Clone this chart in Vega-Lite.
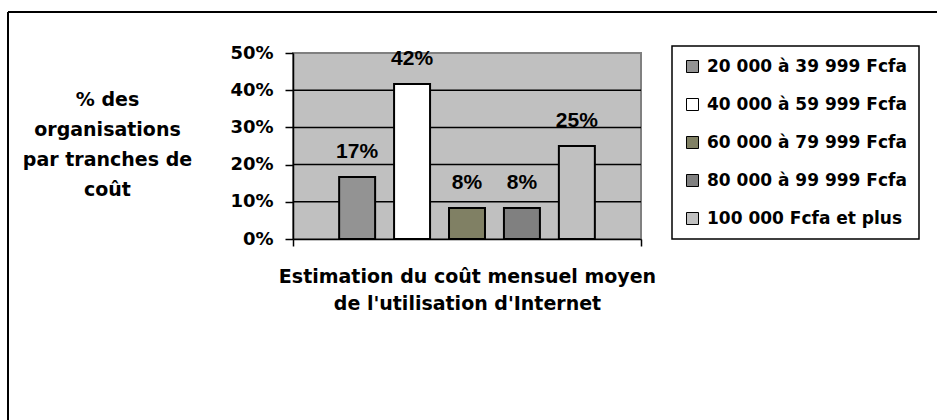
{
  "$schema": "https://vega.github.io/schema/vega-lite/v6.json",
  "width": 929,
  "height": 408,
  "autosize": {"type": "none"},
  "padding": {"left": 8, "top": 12, "right": 0, "bottom": 0},
  "background": "white",
  "view": {"stroke": "black", "strokeWidth": 2, "strokeDash": [929, 1337, 408, 0], "fill": null},
  "config": {
    "font": "DejaVu Sans",
    "legend": {"strokeColor": "black", "strokeWidth": 1.5, "fillColor": "white", "padding": 12}
  },
  "layer": [
    {
      "layer": [
        {
          "data": {"values": [{"zone": "plot"}]},
          "mark": {"type": "rect", "fill": "#c0c0c0", "stroke": "#808080", "strokeWidth": 2},
          "encoding": {
            "x": {
              "datum": 0, "type": "quantitative",
              "scale": {"domain": [0, 1], "range": [285, 633], "nice": false, "zero": false},
              "axis": {
                "orient": "bottom", "offset": -181, "values": [0, 1], "labels": false, "grid": false,
                "ticks": true, "tickSize": 7, "tickColor": "black", "tickWidth": 1.5,
                "domainColor": "black", "domainWidth": 1.5, "zindex": 1,
                "title": ["Estimation du coût mensuel moyen", "de l'utilisation d'Internet"],
                "titleFont": "DejaVu Sans", "titleFontWeight": "bold", "titleFontSize": 19,
                "titleColor": "black", "titleLineHeight": 27, "titleBaseline": "middle", "titleY": 37
              }
            },
            "x2": {"datum": 1},
            "y": {
              "datum": 0, "type": "quantitative",
              "scale": {"domain": [0, 0.5], "range": [227, 41], "nice": false},
              "axis": {
                "orient": "left", "offset": -285, "values": [0, 0.1, 0.2, 0.3, 0.4, 0.5], "format": ".0%",
                "grid": false, "zindex": 1, "labelFlush": false, "labelOverlap": false,
                "domainColor": "black", "domainWidth": 1.5, "tickColor": "black", "tickWidth": 1.5, "tickSize": 8,
                "labelFont": "DejaVu Sans", "labelFontWeight": "bold", "labelFontSize": 18, "labelColor": "black", "labelPadding": 12,
                "title": ["% des", "organisations", "par tranches de", "coût"],
                "titleAngle": 0, "titleAlign": "center", "titleBaseline": "middle",
                "titleX": -186, "titleY": 87, "titleFont": "DejaVu Sans", "titleFontWeight": "bold",
                "titleFontSize": 19, "titleColor": "black", "titleLineHeight": 30
              }
            },
            "y2": {"datum": 0.5}
          }
        },
        {
          "data": {"values": [{"g": 0.1}, {"g": 0.2}, {"g": 0.3}, {"g": 0.4}]},
          "mark": {"type": "rule", "color": "black", "strokeWidth": 1.5},
          "encoding": {
            "x": {"datum": 0, "type": "quantitative"},
            "x2": {"datum": 1},
            "y": {"field": "g", "type": "quantitative"}
          }
        }
      ]
    },
    {
      "data": {"values": [
        {"tranche": "20 000 à 39 999 Fcfa", "pct": 0.1667},
        {"tranche": "40 000 à 59 999 Fcfa", "pct": 0.4167},
        {"tranche": "60 000 à 79 999 Fcfa", "pct": 0.0833},
        {"tranche": "80 000 à 99 999 Fcfa", "pct": 0.0833},
        {"tranche": "100 000 Fcfa et plus", "pct": 0.25}
      ]},
      "layer": [
        {
          "mark": {"type": "bar", "stroke": "black", "strokeWidth": 2},
          "encoding": {
            "x": {
              "field": "tranche", "type": "nominal", "sort": null,
              "scale": {"range": [285, 633], "paddingInner": 0.345, "paddingOuter": 0.84},
              "axis": null
            },
            "y": {"field": "pct", "type": "quantitative"},
            "color": {
              "field": "tranche", "type": "nominal", "sort": null,
              "scale": {
                "domain": ["20 000 à 39 999 Fcfa", "40 000 à 59 999 Fcfa", "60 000 à 79 999 Fcfa", "80 000 à 99 999 Fcfa", "100 000 Fcfa et plus"],
                "range": ["#939393", "#ffffff", "#808064", "#808080", "#c0c0c0"]
              },
              "legend": {
                "orient": "none", "legendX": 664, "legendY": 34, "title": null,
                "symbolType": "square", "symbolSize": 144, "symbolStrokeColor": "black", "symbolStrokeWidth": 1,
                "symbolOpacity": 1,
                "labelFont": "DejaVu Sans", "labelFontWeight": "bold", "labelFontSize": 17, "labelColor": "black",
                "rowPadding": 20, "labelOffset": 6, "labelLimit": 400
              }
            }
          }
        },
        {
          "mark": {"type": "text", "font": "Liberation Sans", "fontWeight": "bold", "fontSize": 21, "baseline": "alphabetic", "dy": -19, "color": "black"},
          "encoding": {
            "x": {"field": "tranche", "type": "nominal", "sort": null},
            "y": {"field": "pct", "type": "quantitative"},
            "text": {"field": "pct", "type": "quantitative", "format": ".0%"}
          }
        }
      ]
    }
  ],
  "resolve": {"scale": {"x": "independent"}, "axis": {"x": "independent"}}
}
